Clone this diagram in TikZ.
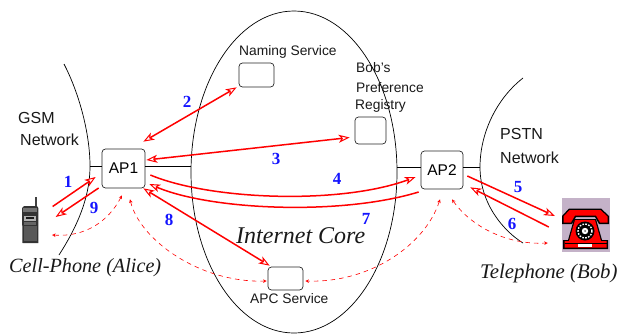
\documentclass[tikz,border=0pt]{standalone}
\usepackage{fontspec}
\setmainfont{Liberation Serif}
\setsansfont{Liberation Sans}
\usetikzlibrary{arrows.meta,calc}
\definecolor{arrred}{RGB}{255,0,0}
\definecolor{numblue}{RGB}{20,20,255}
\definecolor{telbg}{RGB}{196,178,200}
\tikzset{
 box/.style={draw=black!85,line width=0.7pt,rounded corners=3.5pt,inner sep=0pt,fill=white},
 cloudline/.style={draw=black,line width=0.7pt},
 msg/.style={draw=arrred,line width=1.5pt},
 hd/.style={-{Stealth[open,fill=white,length=11pt,width=8pt,inset=3pt,line width=1pt]}},
 bothhd/.style={{Stealth[open,fill=white,length=11pt,width=8pt,inset=3pt,line width=1pt]}-{Stealth[open,fill=white,length=11pt,width=8pt,inset=3pt,line width=1pt]}},
 sig/.style={draw=arrred,line width=0.6pt,dash pattern=on 4.5pt off 4pt,
  {Stealth[open,fill=white,length=3.5pt,width=3.5pt,inset=0.8pt,line width=0.6pt]}-{Stealth[open,fill=white,length=3.5pt,width=3.5pt,inset=0.8pt,line width=0.6pt]}},
 num/.style={font=\fontsize{17}{17}\selectfont\bfseries\rmfamily,text=numblue,inner sep=0pt},
 lab/.style={font=\fontsize{13.8}{16}\selectfont\sffamily,text=black!90,inner sep=0pt},
 biglab/.style={font=\fontsize{16}{16}\selectfont\sffamily,text=black!90,inner sep=0pt},
 ital/.style={font=\fontsize{20.2}{20}\selectfont\itshape\rmfamily,text=black!90,inner sep=0pt},
}
\begin{document}
\begin{tikzpicture}[x=1pt,y=-1pt]
\useasboundingbox (0,0) rectangle (617,335);
\fill[white] (0,0) rectangle (617,335);
% network outlines
\coordinate (gsmtop) at (64,64);
\coordinate (gsmbot) at (59,255);
\coordinate (gsmmid) at (90,166);
\coordinate (pstntop) at (523,78);
\coordinate (pstnbot) at (523,243);
\coordinate (pstnmid) at (480,167);
\coordinate (coreL) at (191,166);
\coordinate (coreR) at (397,167);
\draw[cloudline] (294,172) ellipse [x radius=103,y radius=161];
\draw[cloudline] (gsmtop) .. controls (80,95) and (90,135) .. (gsmmid) .. controls (90,200) and (75,230) .. (gsmbot);
\draw[cloudline] (pstntop) .. controls (495,100) and (480,135) .. (pstnmid) .. controls (480,205) and (505,232) .. (pstnbot);
% boxes
\node[box,minimum width=43pt,minimum height=39pt,font=\fontsize{15.5}{16}\selectfont\sffamily] (ap1) at (123.5,168.5) {AP1};
\node[box,minimum width=42pt,minimum height=38pt,font=\fontsize{15.5}{16}\selectfont\sffamily] (ap2) at (442,170) {AP2};
\node[box,minimum width=35pt,minimum height=24pt] (naming) at (256.5,75) {};
\node[box,minimum width=31pt,minimum height=27pt] (pref) at (370.5,130.5) {};
\node[box,minimum width=35pt,minimum height=23pt] (apc) at (285.5,278.5) {};
% stubs
\draw[cloudline] (gsmmid) -- (gsmmid-|ap1.west);
\draw[cloudline] (coreL-|ap1.east) -- (coreL);
\draw[cloudline] (coreR) -- (coreR-|ap2.west);
\draw[cloudline] (pstnmid-|ap2.east) -- (pstnmid);
% telephone
\node[inner sep=0pt,minimum width=48pt,minimum height=54pt,fill=telbg] (tel) at (586,225) {};
\coordinate (cell) at (52,235);
\begin{scope}[shift={(tel.center)}]
% body
\fill[black] (-12,-6) -- (10,-6) -- (16,15) -- (22,15) -- (22,24) -- (-23,24) -- (-23,15) -- (-18,15) -- cycle;
\fill[red] (-11,-5) -- (9,-5) -- (15,16) -- (20.5,16) -- (20.5,22.5) -- (-21.5,22.5) -- (-21.5,16) -- (-17,16) -- cycle;
\draw[black,line width=0.6pt] (-21.5,18) -- (20.5,18);
\fill[white] (-8,18.6) rectangle (6,21.8);
% handset
\fill[black] (-24,-1) -- (-24,-9) -- (-17,-16.5) -- (15,-16.5) -- (23,-9) -- (23,-1) -- (13,-1) -- (9,-8) -- (-10,-8) -- (-14,-1) -- cycle;
\fill[red] (-22.5,-2.5) -- (-22.5,-8.5) -- (-16.5,-15) -- (14.5,-15) -- (21.5,-8.5) -- (21.5,-2.5) -- (14,-2.5) -- (10,-9.5) -- (-11,-9.5) -- (-15,-2.5) -- cycle;
% dial
\fill[black] (-1,6) circle (9.5pt);
\draw[white,line width=1.4pt,dash pattern=on 1.6pt off 1.4pt] (-1,6) circle (7pt);
\fill[black] (-1,6) circle (4.6pt);
\fill[white] (-1,6) circle (3.2pt);
\fill[black!60] (-1,6) circle (1pt);
\end{scope}
% cell phone
\fill[black!75] (35,197) rectangle (37.2,207);
\fill[black!80] (22,208) -- (24,206) -- (37,206) -- (38.3,208) -- (38.3,243) -- (22.5,243) -- cycle;
\fill[black!55] (23,208) rectangle (37,212);
\fill[black!30] (24,216) rectangle (36,220.5);
\fill[black!90] (26,217) rectangle (34,219);
\fill[black!60] (24,222) rectangle (36,225);
\fill[black!65] (24,226) rectangle (37,241);
% messages
\draw[msg,hd] ([shift={(-49,38)}]ap1.west) -- ([shift={(-6,8.5)}]ap1.west);
\draw[msg,hd] ([shift={(-3,19.5)}]ap1.west) -- ([shift={(-46,48.5)}]ap1.west);
\draw[msg,bothhd] ([shift={(-2,-7)}]ap1.north east) -- ([shift={(-2,0)}]naming.south west);
\draw[msg,bothhd] ([shift={(1,-8.5)}]ap1.east) -- ([shift={(-5,7)}]pref.west);
\draw[msg,hd] ([shift={(5,6.5)}]ap1.east) .. controls (210,200) and (340,205) .. ([shift={(-5,7)}]ap2.west);
\draw[msg,hd] ([shift={(-2,22)}]ap2.west) .. controls (340,216) and (210,210) .. ([shift={(4,15.5)}]ap1.east);
\draw[msg,bothhd] ([shift={(-2,0)}]ap1.south east) -- ([shift={(2,-1)}]apc.north west);
\draw[msg,hd] ([shift={(4,6)}]ap2.east) -- ([shift={(-7,-9)}]tel.west);
\draw[msg,hd] ([shift={(-13,2)}]tel.west) -- ([shift={(7,-2)}]ap2.south east);
% dashed signalling
\draw[sig] ([shift={(-1.5,7)}]ap1.south) .. controls (108,222) and (85,237) .. (cell);
\draw[sig] ([shift={(6.5,11)}]ap1.south) .. controls (140,240) and (200,283) .. ([shift={(-1,2.5)}]apc.west);
\draw[sig] ([shift={(-2,10)}]ap2.south) .. controls (425,245) and (370,283) .. ([shift={(2,2.5)}]apc.east);
\draw[sig] ([shift={(10,10)}]ap2.south) .. controls (470,225) and (505,245) .. ([shift={(-14,18)}]tel.west);
% numbers
\node[num] (n1) at (68,182) {1};
\node[num] (n9) at (94,208) {9};
\node[num] (n2) at (187,102) {2};
\node[num] (n3) at (276,159) {3};
\node[num] (n4) at (337,179) {4};
\node[num] (n5) at (518,187) {5};
\node[num] (n6) at (512,224) {6};
\node[num] (n7) at (366,219) {7};
\node[num] (n8) at (169,220) {8};
% text
\node[biglab,anchor=west] (gsm) at (18,118) {GSM};
\node[biglab,anchor=west] (gsmn) at (20,140) {Network};
\node[biglab,anchor=west] (pstn) at (500,134) {PSTN};
\node[biglab,anchor=west] (pstnn) at (500,158) {Network};
\node[lab,anchor=west] (nameL) at (239,52) {Naming Service};
\node[lab,anchor=west] (bobL) at (356,68) {Bob's};
\node[lab,anchor=west] (prefL) at (356,88) {Preference};
\node[lab,anchor=west] (regL) at (355,106) {Registry};
\node[lab,anchor=west] (apcL) at (250,299) {APC Service};
\node[ital,font=\fontsize{24}{24}\selectfont\itshape\rmfamily,anchor=west] (core) at (236,236) {Internet Core};
\node[ital,anchor=west] (alice) at (9,268) {Cell-Phone (Alice)};
\node[ital,font=\fontsize{20.8}{21}\selectfont\itshape\rmfamily,anchor=west] (bob) at (480,273) {Telephone (Bob)};
\end{tikzpicture}
\end{document}
